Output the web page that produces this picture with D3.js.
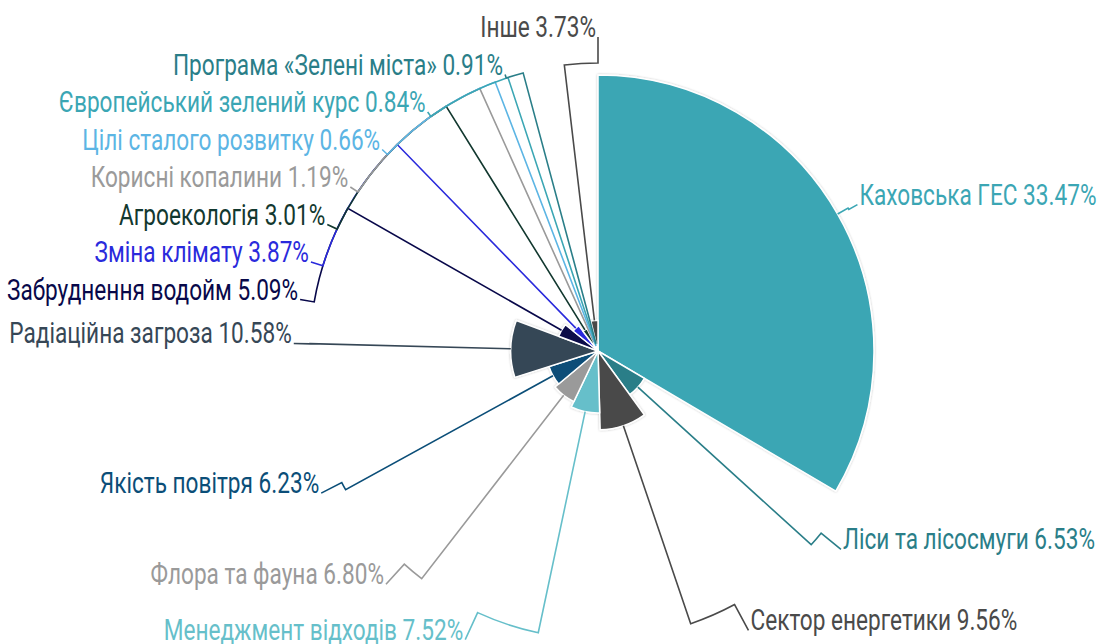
<!DOCTYPE html>
<html>
<head>
<meta charset="utf-8">
<script src="https://cdn.jsdelivr.net/npm/d3@7"></script>
<style>
  body { margin: 0; background: #fff; }
  text { font-family: Roboto, "Noto Sans", sans-serif; }
</style>
</head>
<body>
<div id="chart"></div>
<script>
var categories = ["Каховська ГЕС", "Ліси та лісосмуги", "Сектор енергетики", "Менеджмент відходів",
    "Флора та фауна", "Якість повітря", "Радіаційна загроза", "Забруднення водойм", "Зміна клімату",
    "Агроекологія", "Корисні копалини", "Цілі сталого розвитку", "Європейський зелений курс",
    "Програма «Зелені міста»", "Інше"];
var values = [33.47, 6.53, 9.56, 7.52, 6.80, 6.23, 10.58, 5.09, 3.87, 3.01, 1.19, 0.66, 0.84, 0.91, 3.73];
var colors = ["#3ba6b4", "#2a7e88", "#4a4a4a", "#66bfca", "#9a9a9a", "#0b4e78", "#364756",
    "#08084a", "#2a2adc", "#12382f", "#9a9a9a", "#5cb5e4", "#3ba6b4", "#2a7e88", "#4a4a4a"];

var width = 1098, height = 644;
var cx = 598, cy = 351, maxR = 276;
var labelR = 295, labelXR = 305, connR = 288, gap = 37.5;

var svg = d3.select("#chart").append("svg")
    .attr("width", width).attr("height", height);

var defs = svg.append("defs");
defs.append("filter").attr("id", "shadow")
    .attr("x", "-10%").attr("y", "-10%").attr("width", "120%").attr("height", "120%")
  .append("feDropShadow")
    .attr("dx", 0).attr("dy", 0).attr("stdDeviation", 0.8)
    .attr("flood-color", "#000").attr("flood-opacity", 0.25);

var rows = categories.map(function(c, i) { return {name: c, value: values[i], color: colors[i]}; });

var pie = d3.pie().sort(null).value(function(d) { return d.value; });
var arcs = pie(rows);

// variable radius: slice radius grows with its value
var rScale = d3.scaleLinear().domain([0, d3.max(values)]).range([0, maxR]);
var arc = d3.arc().innerRadius(0).outerRadius(function(d) { return rScale(d.data.value); });

var g = svg.append("g").attr("transform", "translate(" + cx + "," + cy + ")");

g.append("g").attr("filter", "url(#shadow)")
  .selectAll("path").data(arcs).join("path")
    .attr("d", arc)
    .attr("fill", function(d) { return d.data.color; })
    .attr("stroke", "#fff")
    .attr("stroke-width", 1.5)
    .attr("stroke-linejoin", "round");

// label positions
arcs.forEach(function(d) {
    d.mid = (d.startAngle + d.endAngle) / 2;
    d.left = d.mid > Math.PI;
    d.natural = -labelR * Math.cos(d.mid);
});

function distribute(items, lo, hi) {
    items.sort(function(a, b) { return a.natural - b.natural; });
    var groups = items.map(function(d) { return {items: [d]}; });
    function place(gr) {
        var n = gr.items.length;
        var t = d3.mean(gr.items, function(d, i) { return d.natural - i * gap; });
        gr.top = Math.max(lo, Math.min(hi - (n - 1) * gap, t));
    }
    groups.forEach(place);
    var merged = true;
    while (merged) {
        merged = false;
        for (var i = 0; i < groups.length - 1; i++) {
            if (groups[i + 1].top < groups[i].top + groups[i].items.length * gap) {
                groups[i].items = groups[i].items.concat(groups[i + 1].items);
                groups.splice(i + 1, 1);
                place(groups[i]);
                merged = true;
                break;
            }
        }
    }
    groups.forEach(function(gr) {
        gr.items.forEach(function(d, i) { d.y = gr.top + i * gap; });
    });
}

var topY = 37 - cy, bottomY = 641 - cy;
distribute(arcs.filter(function(d) { return d.left; }), topY, bottomY);
distribute(arcs.filter(function(d) { return !d.left; }), topY, bottomY);

arcs.forEach(function(d) {
    var dy = d.y - 14;
    var off = Math.sqrt(Math.max(0, labelXR * labelXR - dy * dy));
    d.ax = d.left ? -off : off;
    d.ay = d.y;
});

function connector(d) {
    var p = d3.path();
    var a = Math.atan2(d.ax, -d.ay);
    if (a < 0) a += 2 * Math.PI;
    if (d.left && a < Math.PI) a += 2 * Math.PI;
    var r = rScale(d.data.value);
    p.moveTo(d.ax, d.ay);
    p.lineTo(connR * Math.sin(a), -connR * Math.cos(a));
    p.arc(0, 0, connR, a - Math.PI / 2, d.mid - Math.PI / 2, d.mid < a);
    p.lineTo(r * Math.sin(d.mid), -r * Math.cos(d.mid));
    return p.toString();
}

g.append("g").selectAll("path").data(arcs).join("path")
    .attr("d", connector)
    .attr("fill", "none")
    .attr("stroke", function(d) { return d.data.color; })
    .attr("stroke-width", 1.6);

g.append("g").selectAll("text").data(arcs).join("text")
    .attr("transform", function(d) {
        var x = d.ax + (d.left ? -2 : 2);
        return "translate(" + x + "," + d.ay + ") scale(0.78,1)";
    })
    .attr("text-anchor", function(d) { return d.left ? "end" : "start"; })
    .attr("fill", function(d) { return d.data.color; })
    .style("font-size", "29px")
    .text(function(d) { return d.data.name + " " + d.data.value.toFixed(2) + "%"; });
</script>
</body>
</html>
